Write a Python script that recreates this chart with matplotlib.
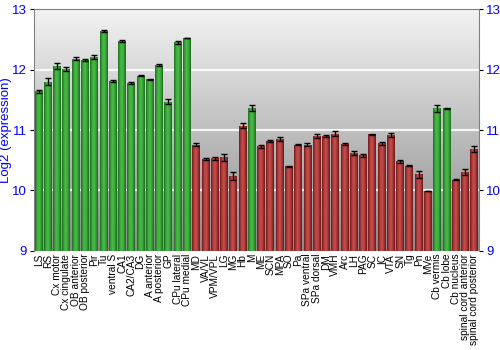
import numpy as np
import matplotlib.pyplot as plt
from matplotlib.colors import LinearSegmentedColormap

plt.rcParams['font.family'] = ['Liberation Sans', 'DejaVu Sans']

regions = ['LS', 'RS', 'Cx motor', 'Cx cingulate', 'OB anterior', 'OB posterior', 'Pir', 'Tu',
           'ventral S', 'CA1', 'CA2/CA3', 'DG', 'A anterior', 'A posterior', 'GP', 'CPu lateral',
           'CPu medial', 'MD', 'VA/VL', 'VPM/VPL', 'LG', 'MG', 'Hb', 'M', 'ME', 'SCN', 'MPA', 'SO',
           'Pa', 'SPa ventral', 'SPa dorsal', 'DM', 'VMH', 'Arc', 'LH', 'PAG', 'SC', 'IC', 'VTA',
           'SN', 'Tg', 'Pn', 'MVe', 'Cb vermis', 'Cb lobe', 'Cb nucleus', 'spinal cord anterior',
           'spinal cord posterior']
expression = [11.64, 11.80, 12.06, 12.01, 12.18, 12.16, 12.21, 12.64,
              11.81, 12.47, 11.78, 11.90, 11.84, 12.08, 11.47, 12.45,
              12.52, 10.76, 10.52, 10.53, 10.55, 10.24, 11.07, 11.36, 10.73, 10.82, 10.85, 10.40,
              10.76, 10.76, 10.90, 10.90, 10.94, 10.77, 10.62, 10.58, 10.93, 10.78, 10.92,
              10.48, 10.41, 10.27, 9.99, 11.36, 11.36, 10.18, 10.31, 10.69]
errors = [0.02, 0.06, 0.05, 0.04, 0.02, 0.02, 0.03, 0.02,
          0.01, 0.02, 0.02, 0.01, 0.005, 0.02, 0.04, 0.03,
          0.005, 0.02, 0.01, 0.02, 0.06, 0.06, 0.04, 0.05, 0.02, 0.01, 0.03, 0.01,
          0.01, 0.02, 0.03, 0.02, 0.04, 0.02, 0.03, 0.02, 0.01, 0.03, 0.03,
          0.02, 0.005, 0.06, 0.005, 0.06, 0.005, 0.01, 0.05, 0.05]
# True = green (high), False = red
is_green = [True] * 17 + [False] * 6 + [True] + [False] * 19 + [True, True] + [False] * 3

green_cmap = LinearSegmentedColormap.from_list(
    'g', ['#1f6a1f', '#3aa83a', '#4cbc4c', '#35a035', '#1c6a1c'])
red_cmap = LinearSegmentedColormap.from_list(
    'r', ['#6e1a1a', '#b03c3c', '#c45050', '#a83434', '#6a1818'])

fig = plt.figure(figsize=(5, 3.5), dpi=100)
ax = fig.add_axes([0.068, 0.283, 0.89, 0.691])

x = np.arange(len(regions))
ax.set_xlim(-0.5, len(regions) - 0.5)
ax.set_ylim(9, 13)

# background gradient
grad = np.linspace(0, 1, 256).reshape(-1, 1)
bg = LinearSegmentedColormap.from_list('bg', ['#8a8a8a', '#f3f3f3'])
ax.imshow(grad, cmap=bg, aspect='auto', extent=(-0.5, len(regions) - 0.5, 9, 13),
          origin='lower', zorder=0)
for yv in [10, 11, 12]:
    ax.axhline(yv, color='white', lw=1.6, alpha=0.85, zorder=1)

bars = ax.bar(x, np.array(expression) - 9, bottom=9, width=0.86, color='none',
              edgecolor='none', zorder=2)
hgrad = np.linspace(0, 1, 64).reshape(1, -1)
for b, g in zip(bars, is_green):
    x0, y0 = b.get_x(), b.get_y()
    im = ax.imshow(hgrad, cmap=green_cmap if g else red_cmap, aspect='auto',
                   extent=(x0, x0 + b.get_width(), y0, y0 + b.get_height()), zorder=2)
    im.set_clip_path(b)

ax.errorbar(x, expression, yerr=errors, fmt='none', ecolor='black', elinewidth=1,
            capsize=2, capthick=1, zorder=3)

ax.set_xticks(x)
ax.set_xticklabels(regions, rotation=90, fontsize=7.3)
ax.tick_params(axis='x', length=0, pad=2)
ax.set_yticks([9, 10, 11, 12, 13])
ax.tick_params(axis='y', labelsize=9.5, labelcolor='blue', length=3, color='black',
               right=True, labelright=True, pad=2)
ax.set_ylabel('Log2 (expression)', color='blue', fontsize=9.5)
ax.yaxis.set_label_coords(-0.05, 0.5)

for s in ['left', 'right', 'top']:
    ax.spines[s].set_color('#808080')
ax.spines['bottom'].set_visible(False)

fig.savefig('out.png', dpi=100)
